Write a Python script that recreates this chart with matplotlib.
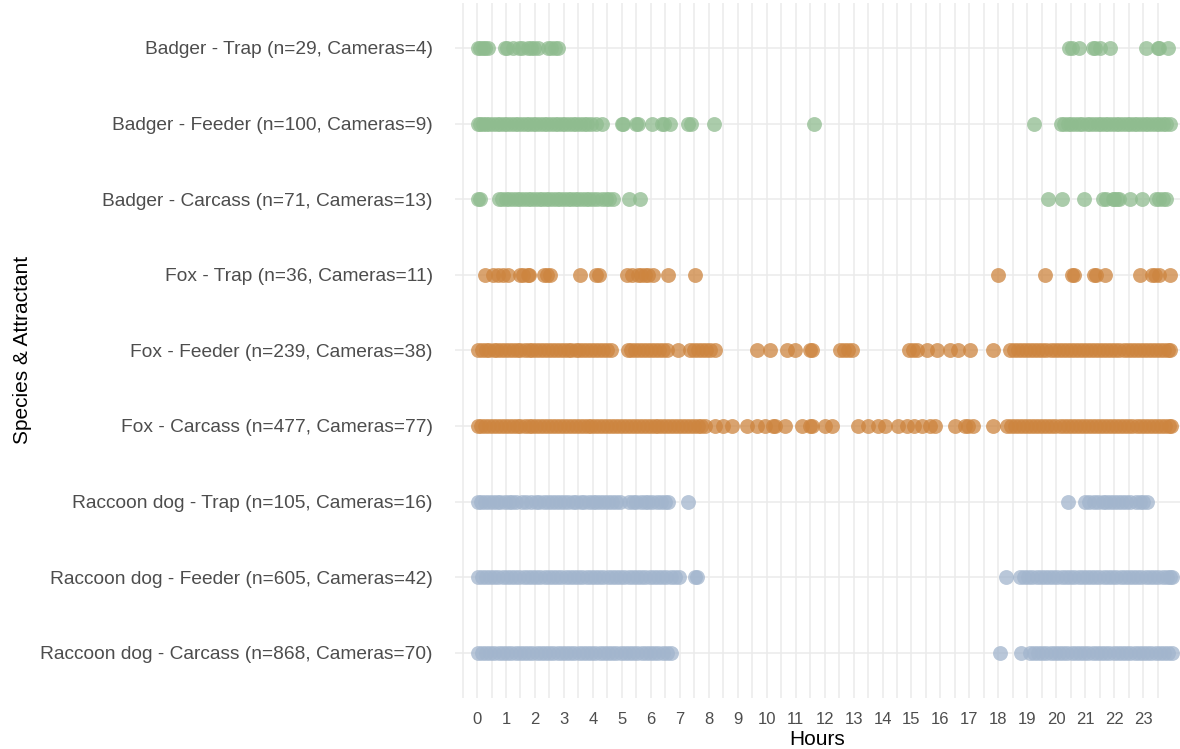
import numpy as np
import matplotlib
matplotlib.use("Agg")
import matplotlib.pyplot as plt

plt.rcParams['font.family'] = ['Liberation Sans', 'DejaVu Sans']

# row labels, bottom to top
labels = [
    "Raccoon dog - Carcass (n=868, Cameras=70)",
    "Raccoon dog - Feeder (n=605, Cameras=42)",
    "Raccoon dog - Trap (n=105, Cameras=16)",
    "Fox - Carcass (n=477, Cameras=77)",
    "Fox - Feeder (n=239, Cameras=38)",
    "Fox - Trap (n=36, Cameras=11)",
    "Badger - Carcass (n=71, Cameras=13)",
    "Badger - Feeder (n=100, Cameras=9)",
    "Badger - Trap (n=29, Cameras=4)",
]
species = ["Raccoon dog"] * 3 + ["Fox"] * 3 + ["Badger"] * 3
colors = {"Badger": "#8FBC8F", "Fox": "#CD853F", "Raccoon dog": "#A2B5CD"}

raccoon_carcass = [
    0.03, 0.17, 0.31, 0.46, 0.6, 0.76, 0.9, 1.04, 1.19, 1.33, 1.48, 1.62, 1.77, 1.91,
    2.06, 2.2, 2.35, 2.49, 2.64, 2.78, 2.93, 3.07, 3.22, 3.36, 3.51, 3.65, 3.8, 3.94,
    4.09, 4.23, 4.38, 4.52, 4.67, 4.81, 4.96, 5.1, 5.25, 5.39, 5.54, 5.68, 5.83, 5.97,
    6.12, 6.26, 6.41, 6.55, 6.7,
    18.06, 18.77,
    19.08, 19.22, 19.37, 19.51, 19.66, 19.8, 19.95, 20.09, 20.24, 20.38, 20.53, 20.67,
    20.82, 20.96, 21.11, 21.25, 21.4, 21.54, 21.69, 21.83, 21.98, 22.12, 22.27, 22.41,
    22.56, 22.7, 22.85, 22.99, 23.14, 23.28, 23.43, 23.57, 23.72, 23.86, 23.98,
]
raccoon_feeder = [
    0.03, 0.16, 0.3, 0.45, 0.59, 0.74, 0.88, 1.03, 1.17, 1.32, 1.46, 1.61, 1.75, 1.9,
    2.04, 2.19, 2.33, 2.48, 2.62, 2.77, 2.91, 3.06, 3.2, 3.35, 3.49, 3.64, 3.78, 3.93,
    4.07, 4.22, 4.36, 4.51, 4.65, 4.8, 4.94, 5.09, 5.23, 5.38, 5.52, 5.67, 5.81, 5.96,
    6.1, 6.25, 6.39, 6.54, 6.68, 6.83, 6.97, 7.53, 7.6,
    18.27,
    18.74, 18.88, 19.03, 19.17, 19.32, 19.46, 19.61, 19.75, 19.9, 20.04, 20.19, 20.33,
    20.48, 20.62, 20.77, 20.91, 21.06, 21.2, 21.35, 21.49, 21.64, 21.78, 21.93, 22.07,
    22.22, 22.36, 22.51, 22.65, 22.8, 22.94, 23.09, 23.23, 23.38, 23.52, 23.67, 23.81,
    23.94, 23.99,
]
raccoon_trap = [
    0.04, 0.15, 0.28, 0.4, 0.55, 0.68, 0.8, 0.95, 1.1, 1.22, 1.35, 1.55, 1.68, 1.88,
    2.02, 2.15, 2.3, 2.45, 2.6, 2.72, 2.85, 3.0, 3.15, 3.3, 3.42, 3.58, 3.7, 3.85,
    4.0, 4.12, 4.25, 4.4, 4.52, 4.66, 4.8, 4.95, 5.25, 5.38, 5.5, 5.65, 5.8, 5.92,
    6.05, 6.2, 6.35, 6.48, 6.6, 7.3,
    20.42, 21.0, 21.12, 21.3, 21.45, 21.6, 21.72, 21.85, 22.0, 22.12, 22.28, 22.4,
    22.55, 22.75, 22.88, 23.0, 23.12,
]
fox_carcass = [
    0.03, 0.15, 0.28, 0.42, 0.55, 0.69, 0.82, 0.96, 1.1, 1.23, 1.37, 1.5, 1.64, 1.78,
    1.91, 2.05, 2.18, 2.32, 2.46, 2.59, 2.73, 2.86, 3.0, 3.14, 3.27, 3.41, 3.54, 3.68,
    3.82, 3.95, 4.09, 4.22, 4.36, 4.5, 4.63, 4.77, 4.9, 5.04, 5.18, 5.31, 5.45, 5.58,
    5.72, 5.86, 5.99, 6.13, 6.26, 6.4, 6.54, 6.67, 6.81, 6.94, 7.08, 7.22, 7.35, 7.49,
    7.62, 7.75, 7.87,
    8.22, 8.5, 8.79, 9.31, 9.66, 9.94, 10.23, 10.3, 10.64, 11.21, 11.5, 11.56, 12.02,
    12.25, 13.17, 13.51, 13.86, 14.09, 14.55, 14.84, 15.07, 15.36, 15.64, 15.81,
    16.5, 16.85, 16.95, 17.14, 17.83,
    18.29, 18.43, 18.57, 18.71, 18.85, 18.99, 19.13, 19.27, 19.41, 19.55, 19.69, 19.83,
    19.97, 20.11, 20.25, 20.39, 20.53, 20.67, 20.81, 20.95, 21.09, 21.23, 21.37, 21.51,
    21.65, 21.79, 21.93, 22.07, 22.21, 22.35, 22.49, 22.63, 22.77, 22.91, 23.05, 23.19,
    23.33, 23.47, 23.61, 23.75, 23.88, 23.95,
]
fox_feeder = [
    0.04, 0.16, 0.3, 0.43, 0.57, 0.7, 0.84, 0.97, 1.1, 1.24, 1.38, 1.5, 1.64, 1.78,
    1.91, 2.05, 2.18, 2.32, 2.45, 2.59, 2.72, 2.86, 2.99, 3.13, 3.26, 3.4, 3.53, 3.67,
    3.8, 3.94, 4.07, 4.21, 4.34, 4.48, 4.62,
    5.2, 5.33, 5.47, 5.6, 5.74, 5.87, 6.01, 6.14, 6.28, 6.42, 6.55, 6.95,
    7.36, 7.5, 7.64, 7.78, 7.92, 8.06, 8.2,
    9.66, 10.12, 10.69, 10.98, 11.5, 11.56, 12.53, 12.68, 12.8, 12.94,
    14.9, 15.05, 15.18, 15.53, 15.87, 16.33, 16.62, 17.02, 17.83,
    18.4, 18.54, 18.68, 18.82, 18.96, 19.1, 19.24, 19.38, 19.52, 19.66, 19.8, 19.94,
    20.08, 20.22, 20.36, 20.5, 20.64, 20.78, 20.92, 21.06, 21.2, 21.34, 21.48, 21.62,
    21.76, 21.9, 22.04, 22.18, 22.32, 22.46, 22.6, 22.74, 22.88, 23.02, 23.16, 23.3,
    23.44, 23.58, 23.72, 23.86, 23.93,
]
fox_trap = [
    0.28, 0.56, 0.74, 0.91, 1.08, 1.5, 1.58, 1.75, 1.8, 2.32, 2.4, 2.52, 3.56, 4.1, 4.2,
    5.17, 5.34, 5.55, 5.65, 5.8, 5.9, 6.09, 6.61, 7.53,
    18.0, 19.61, 20.55, 20.6, 21.3, 21.38, 21.69, 22.89, 23.3, 23.4, 23.53, 23.93,
]
badger_carcass = [
    0.03, 0.1, 0.75, 0.87, 1.0, 1.12, 1.25, 1.38, 1.5, 1.63, 1.75, 1.88, 2.0, 2.13,
    2.25, 2.38, 2.5, 2.63, 2.75, 2.88, 3.0, 3.13, 3.25, 3.38, 3.5, 3.63, 3.75, 3.88,
    4.0, 4.15, 4.3, 4.45, 4.55, 4.7, 5.23, 5.63,
    19.73, 20.19, 20.94, 21.6, 21.7, 21.95, 22.0, 22.1, 22.15, 22.55, 22.95, 23.45,
    23.55, 23.7, 23.8,
]
badger_feeder = [
    0.04, 0.12, 0.2, 0.3, 0.42, 0.55, 0.68, 0.8, 0.92, 1.05, 1.18, 1.3, 1.43, 1.55,
    1.68, 1.8, 1.93, 2.05, 2.18, 2.3, 2.43, 2.55, 2.68, 2.8, 2.93, 3.05, 3.18, 3.3,
    3.43, 3.55, 3.68, 3.8, 3.95, 4.1, 4.3,
    5.0, 5.05, 5.5, 5.55, 6.03, 6.38, 6.45, 6.66, 7.3, 7.4, 8.18, 11.65, 19.23,
    20.15, 20.28, 20.4, 20.52, 20.65, 20.78, 20.9, 21.05, 21.18, 21.3, 21.43, 21.55,
    21.68, 21.8, 21.93, 22.05, 22.18, 22.3, 22.43, 22.55, 22.68, 22.8, 22.93, 23.05,
    23.18, 23.3, 23.43, 23.55, 23.68, 23.8, 23.93,
]
badger_trap = [
    0.05, 0.12, 0.2, 0.28, 0.38, 0.95, 1.05, 1.25, 1.45, 1.55, 1.75, 1.85, 1.95, 2.1,
    2.45, 2.55, 2.7, 2.8,
    20.45, 20.55, 20.8, 21.25, 21.35, 21.5, 21.85, 23.1, 23.5, 23.55, 23.85,
]

rows = [raccoon_carcass, raccoon_feeder, raccoon_trap,
        fox_carcass, fox_feeder, fox_trap,
        badger_carcass, badger_feeder, badger_trap]
hour_ticks = list(range(24))

fig = plt.figure(figsize=(11.8, 7.49), dpi=100)
ax = fig.add_axes([0.3856, 0.068, 0.6144, 0.9285])

for i, hours in enumerate(rows):
    ax.scatter(hours, [i] * len(hours), s=115, color=colors[species[i]],
               alpha=0.75, linewidths=0, zorder=3)

ax.set_xlim(-0.76, 24.27)
ax.set_ylim(-0.6, 8.6)
ax.set_xticks(hour_ticks)
ax.set_xticklabels([str(h) for h in hour_ticks])
ax.set_xticks(np.arange(-0.5, 24.5, 1.0), minor=True)
ax.set_yticks(range(len(labels)))
ax.set_yticklabels(labels)

ax.grid(True, which='major', color='#EBEBEB', linewidth=1.1, zorder=0)
ax.grid(True, which='minor', axis='x', color='#EBEBEB', linewidth=1.1, zorder=0)
for s in ax.spines.values():
    s.set_visible(False)
ax.tick_params(which='both', length=0)
ax.tick_params(axis='y', labelsize=13.8, labelcolor='#4D4D4D', pad=16)
ax.tick_params(axis='x', labelsize=12, labelcolor='#4D4D4D', pad=10)

ax.set_xlabel("Hours", fontsize=15, color='black', labelpad=2)
ax.set_ylabel("Species & Attractant", fontsize=15, color='black')
ax.yaxis.set_label_coords(-0.583, 0.5)

fig.savefig("out.png", dpi=100)
